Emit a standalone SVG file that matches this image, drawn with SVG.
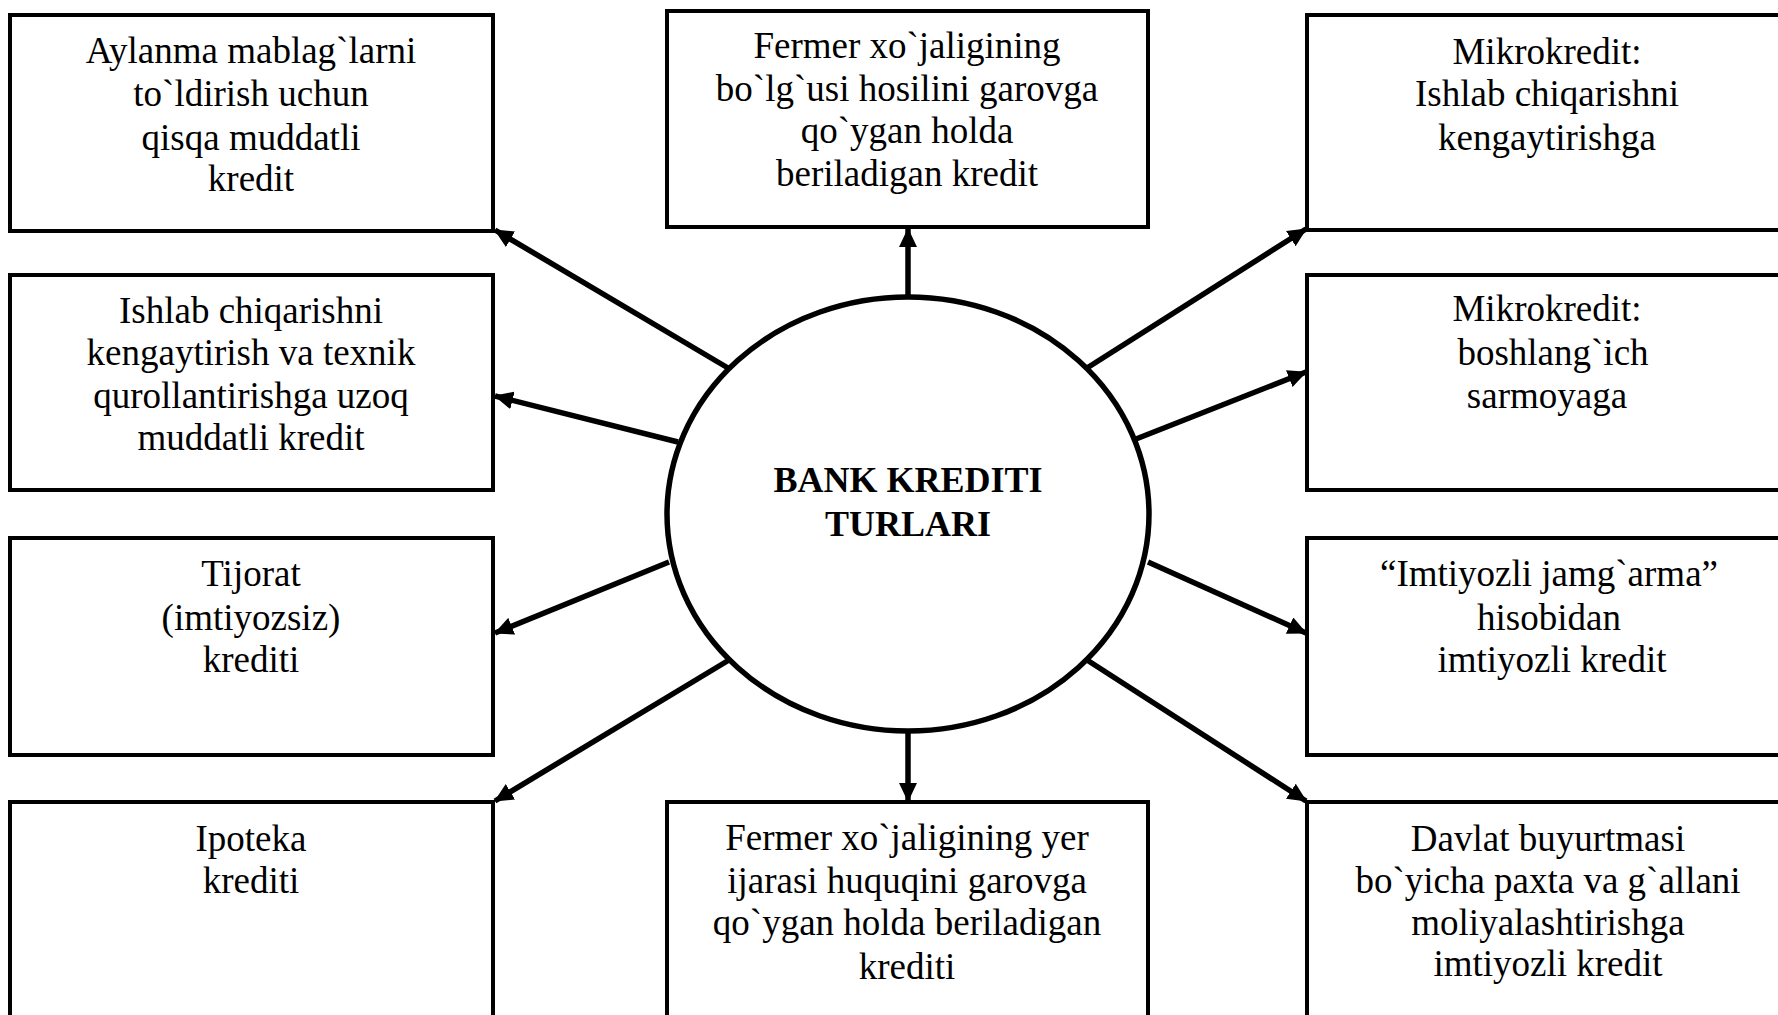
<svg xmlns="http://www.w3.org/2000/svg" width="1778" height="1015" viewBox="0 0 1778 1015">
<style>
.box{fill:#fff;stroke:#000;stroke-width:4}
.t{font-family:"Liberation Serif","Times New Roman",serif;font-size:37px;fill:#000;text-anchor:middle}
.tb{font-family:"Liberation Serif","Times New Roman",serif;font-size:36px;font-weight:bold;fill:#000;text-anchor:middle}
.ln{stroke:#000;stroke-width:5.5;fill:none;marker-end:url(#ah)}
</style>
<defs>
<marker id="ah" viewBox="0 0 19 18" refX="18" refY="9" markerWidth="19" markerHeight="18" markerUnits="userSpaceOnUse" orient="auto">
<path d="M0,0 L19,9 L0,18 Z" fill="#000"/>
</marker>
</defs>
<rect width="1778" height="1015" fill="#fff"/>

<g id="connectors">
<line class="ln" x1="728" y1="368" x2="495" y2="230"/>
<line class="ln" x1="678" y1="442" x2="495" y2="396"/>
<line class="ln" x1="669" y1="562" x2="495" y2="633"/>
<line class="ln" x1="729" y1="660" x2="495" y2="801"/>
<line class="ln" x1="1087" y1="368" x2="1306" y2="229"/>
<line class="ln" x1="1136" y1="439" x2="1306" y2="372"/>
<line class="ln" x1="1148" y1="562" x2="1306" y2="633"/>
<line class="ln" x1="1087" y1="660" x2="1306" y2="801"/>
<line class="ln" x1="908" y1="297" x2="908" y2="229"/>
<line class="ln" x1="908" y1="731" x2="908" y2="801"/>
</g>

<g id="center">
<ellipse cx="908" cy="514" rx="241" ry="217" fill="#fff" stroke="#000" stroke-width="5.5"/>
<text class="tb" x="908" y="492">BANK KREDITI</text>
<text class="tb" x="908" y="536">TURLARI</text>
</g>

<g id="n-aylanma">
<rect class="box" x="10" y="15" width="483" height="216"/>
<text class="t" x="251" y="63">Aylanma mablag`larni</text>
<text class="t" x="251" y="106">to`ldirish uchun</text>
<text class="t" x="251" y="150">qisqa muddatli</text>
<text class="t" x="251" y="191">kredit</text>
</g>

<g id="n-ishlab-uzoq">
<rect class="box" x="10" y="275" width="483" height="215"/>
<text class="t" x="251" y="323">Ishlab chiqarishni</text>
<text class="t" x="251" y="365">kengaytirish va texnik</text>
<text class="t" x="251" y="408">qurollantirishga uzoq</text>
<text class="t" x="251" y="450">muddatli kredit</text>
</g>

<g id="n-tijorat">
<rect class="box" x="10" y="538" width="483" height="217"/>
<text class="t" x="251" y="586">Tijorat</text>
<text class="t" x="251" y="630">(imtiyozsiz)</text>
<text class="t" x="251" y="672">krediti</text>
</g>

<g id="n-ipoteka">
<rect class="box" x="10" y="802" width="483" height="240"/>
<text class="t" x="251" y="851">Ipoteka</text>
<text class="t" x="251" y="893">krediti</text>
</g>

<g id="n-hosil">
<rect class="box" x="667" y="11" width="481" height="216"/>
<text class="t" x="907" y="58">Fermer xo`jaligining</text>
<text class="t" x="907" y="101">bo`lg`usi hosilini garovga</text>
<text class="t" x="907" y="143">qo`ygan holda</text>
<text class="t" x="907" y="186">beriladigan kredit</text>
</g>

<g id="n-yer">
<rect class="box" x="667" y="802" width="481" height="240"/>
<text class="t" x="907" y="850">Fermer xo`jaligining yer</text>
<text class="t" x="907" y="893">ijarasi huquqini garovga</text>
<text class="t" x="907" y="935">qo`ygan holda beriladigan</text>
<text class="t" x="907" y="979">krediti</text>
</g>

<g id="n-mikro1">
<rect class="box" x="1307" y="15" width="490" height="215"/>
<text class="t" x="1547" y="64">Mikrokredit:</text>
<text class="t" x="1547" y="106">Ishlab chiqarishni</text>
<text class="t" x="1547" y="150">kengaytirishga</text>
</g>

<g id="n-mikro2">
<rect class="box" x="1307" y="275" width="490" height="215"/>
<text class="t" x="1547" y="321">Mikrokredit:</text>
<text class="t" x="1553" y="365">boshlang`ich</text>
<text class="t" x="1547" y="408">sarmoyaga</text>
</g>

<g id="n-jamgarma">
<rect class="box" x="1307" y="538" width="490" height="217"/>
<text class="t" x="1549" y="586">“Imtiyozli jamg`arma”</text>
<text class="t" x="1549" y="630">hisobidan</text>
<text class="t" x="1552" y="672">imtiyozli kredit</text>
</g>

<g id="n-davlat">
<rect class="box" x="1307" y="802" width="490" height="240"/>
<text class="t" x="1548" y="851">Davlat buyurtmasi</text>
<text class="t" x="1548" y="893">bo`yicha paxta va g`allani</text>
<text class="t" x="1548" y="935">moliyalashtirishga</text>
<text class="t" x="1548" y="976">imtiyozli kredit</text>
</g>
</svg>
